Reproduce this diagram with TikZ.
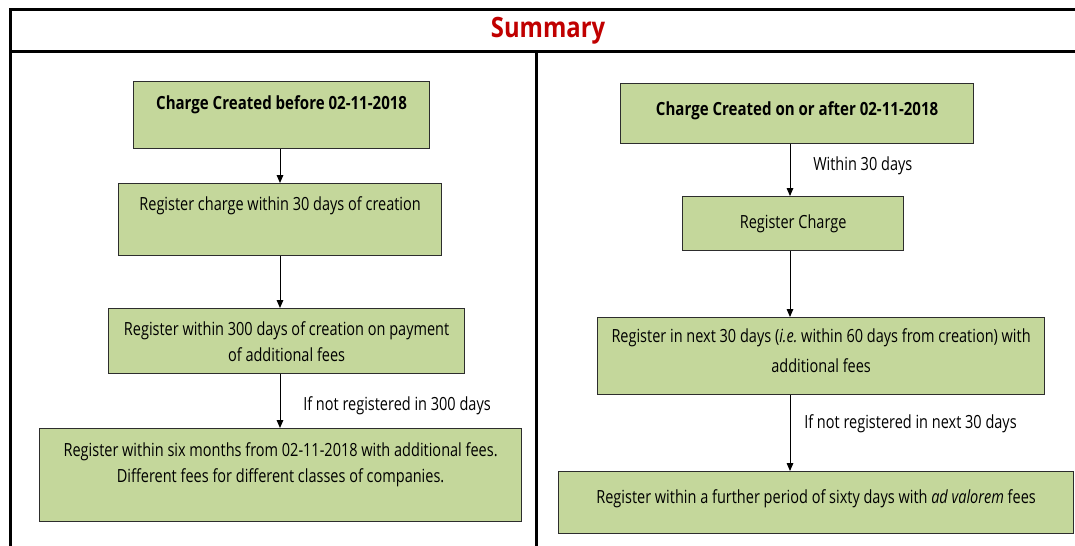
\documentclass[tikz,border=0pt]{standalone}
\usepackage{fontspec}
\setmainfont{Open Sans}[FakeStretch=0.8]
\newfontfamily\summaryfont{Open Sans}[FakeStretch=0.85]
\newfontfamily\headfont{Open Sans}[FakeStretch=0.83]
\usetikzlibrary{arrows.meta}
\definecolor{boxgreen}{RGB}{196,215,155}
\definecolor{summaryred}{RGB}{192,0,0}

\begin{document}
\begin{tikzpicture}[x=0.75pt,y=0.75pt,yscale=-1,xscale=1,
  chargebox/.style={draw={rgb, 255:red, 45; green, 45; blue, 45},fill=boxgreen,line width=0.9pt,
    inner sep=0pt,minimum height=0pt,align=center,anchor=north west,
    font=\fontsize{13.6}{19.5}\selectfont},
  titlebox/.style={chargebox,font=\headfont\fontsize{13.6}{19.5}\selectfont\bfseries},
  flowarrow/.style={-{Triangle[length=6pt,width=5pt]},line width=0.75pt},
  steplabel/.style={anchor=base west,inner sep=0pt,font=\fontsize{13.6}{19.5}\selectfont},
  tableline/.style={line width=2.25pt}]
\useasboundingbox (0,0) rectangle (1075,546);

%Straight Lines: table frame
\draw [tableline] (10,9) -- (1075,9) ;
\draw [tableline] (10,51) -- (1075,51) ;
\draw [tableline] (10,8) -- (10,546) ;
\draw [tableline] (536,51) -- (536,546) ;

% Text Node
\node (summary) at (548,37) [anchor=base,inner sep=0pt,text=summaryred,font=\summaryfont\fontsize{21}{24}\selectfont\bfseries] {Summary};

%Shape: Rectangle (left column)
\node (before) at (133,81) [titlebox,minimum width=222pt,text height=21pt,text depth=29.25pt] {Charge Created before 02-11-2018};
\node (within30) at (118,183) [chargebox,minimum width=242.25pt,text height=20.25pt,text depth=33.75pt] {Register charge within 30 days of creation};
\node (within300) at (108,308) [chargebox,minimum width=267pt,text height=39.75pt,text depth=9pt] {Register within 300 days of creation on payment\\of additional fees};
\node (sixmonths) at (39,428) [chargebox,minimum width=361.5pt,text height=40.5pt,text depth=29.25pt] {Register within six months from 02-11-2018 with additional fees.\\Different fees for different classes of companies.};

%Shape: Rectangle (right column)
\node (after) at (620,83) [titlebox,minimum width=264.75pt,text height=24pt,text depth=21pt] {Charge Created on or after 02-11-2018};
\node (register) at (682,196) [chargebox,minimum width=165.75pt,text height=24pt,text depth=16.5pt] {Register Charge};
\node (next30) at (597,317) [chargebox,minimum width=335.25pt,text height=41.25pt,text depth=16.5pt] {Register in next 30 days (\textit{i.e.}\ within 60 days from creation) with\\[3pt]additional fees};
\node (advalorem) at (558,471) [chargebox,minimum width=386.25pt,text height=24pt,text depth=22.5pt] {Register within a further period of sixty days with \textit{ad valorem} fees};

% Text Node
\node (lbl300) at (303,410) [steplabel] {If not registered in 300 days};
\node (lbl30) at (813,170) [steplabel] {Within 30 days};
\node (lblnext) at (804,428) [steplabel] {If not registered in next 30 days};

%Straight Lines: arrows
\coordinate (colL) at (280,0);
\coordinate (colR) at (790,0);
\draw [flowarrow] (before.south -| colL) -- (within30.north -| colL) ;
\draw [flowarrow] (within30.south -| colL) -- (within300.north -| colL) ;
\draw [flowarrow] (within300.south -| colL) -- (sixmonths.north -| colL) ;
\draw [flowarrow] (after.south -| colR) -- (register.north -| colR) ;
\draw [flowarrow] (register.south -| colR) -- (next30.north -| colR) ;
\draw [flowarrow] (next30.south -| colR) -- (advalorem.north -| colR) ;

\end{tikzpicture}
\end{document}
